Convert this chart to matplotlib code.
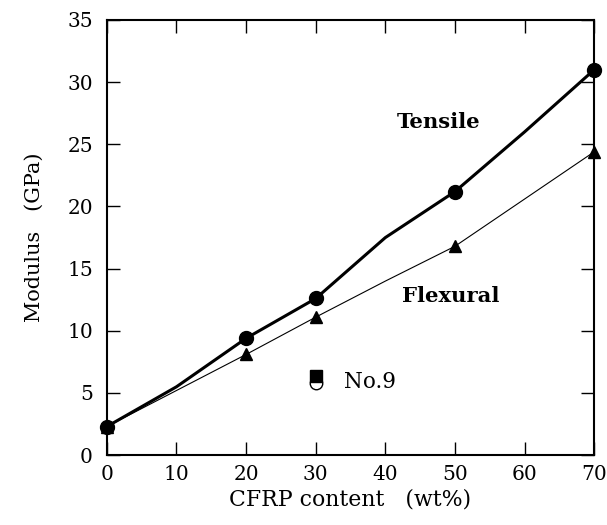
import matplotlib.pyplot as plt

# data
content = [0, 10, 20, 30, 40, 50, 60, 70]
tensile = [2.3, 5.5, 9.4, 12.6, 17.5, 21.2, 26.0, 31.0]
flexural = [2.3, 5.2, 8.1, 11.1, 14.0, 16.8, 20.6, 24.4]
marked = [0, 2, 3, 5, 7]  # only these points carry a marker

no9_x = 30
no9_tensile = 6.4
no9_flexural = 5.8

plt.rcParams['font.family'] = ['DejaVu Serif']

fig = plt.figure(figsize=(6.07, 5.25), dpi=100)
ax = fig.add_axes([0.176, 0.133, 0.803, 0.829])

ax.plot(content, flexural, color='black', lw=0.8, marker='^', ms=9,
        markevery=marked, clip_on=False, zorder=3)
ax.plot(content, tensile, color='black', lw=2.2, marker='o', ms=10,
        markevery=marked, clip_on=False, zorder=4)

ax.plot(no9_x, no9_flexural, marker='o', ms=9, mfc='white', mec='black', mew=1, ls='none', zorder=4)
ax.plot(no9_x, no9_tensile, marker='s', ms=9, color='black', ls='none', zorder=5)

ax.text(47.6, 26.8, 'Tensile', fontsize=15.2, fontweight='bold', ha='center', va='center')
ax.text(49.4, 12.8, 'Flexural', fontsize=15.2, fontweight='bold', ha='center', va='center')
ax.text(34.0, 5.9, 'No.9', fontsize=15.5, ha='left', va='center')

ax.set_xlim(0, 70)
ax.set_ylim(0, 35)
ax.set_xticks(range(0, 71, 10))
ax.set_yticks(range(0, 36, 5))
ax.tick_params(direction='in', length=9.5, width=1, labelsize=14.5, top=True, right=True)
ax.tick_params(axis='y', pad=10)
ax.tick_params(axis='x', pad=7)
for s in ax.spines.values():
    s.set_linewidth(1.5)

ax.set_xlabel('CFRP content   (wt%)', fontsize=15.8, labelpad=3)
ax.set_ylabel('Modulus   (GPa)', fontsize=15, labelpad=17)

fig.savefig('out.png', dpi=100)
